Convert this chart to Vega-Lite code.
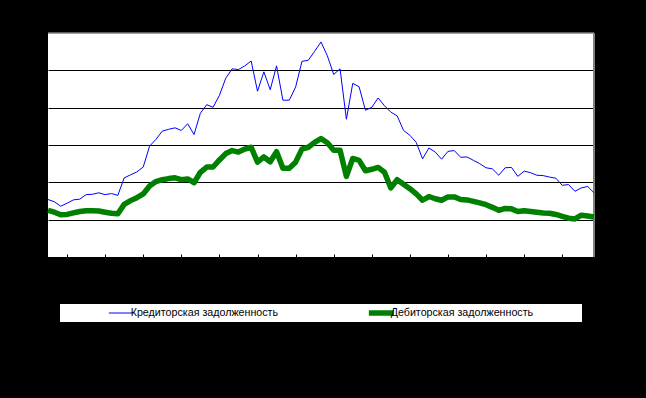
{
  "$schema": "https://vega.github.io/schema/vega-lite/v6.json",
  "width": 546,
  "height": 224,
  "autosize": {"type": "none"},
  "padding": {"left": 48, "top": 33, "right": 52, "bottom": 141},
  "background": "black",
  "config": {"view": {"fill": "white", "stroke": null}, "font": "Liberation Sans"},
  "layer": [
    {
      "data": {"values": [{}]},
      "mark": {"type": "rule", "color": "#808080", "strokeWidth": 1.5},
      "encoding": {"y": {"datum": 6, "type": "quantitative", "scale": {"domain": [0, 6], "nice": false}}}
    },
    {
      "data": {"values": [{}]},
      "mark": {"type": "rule", "color": "#808080", "strokeWidth": 2},
      "encoding": {"x": {"datum": 86, "type": "quantitative", "scale": {"domain": [0, 86], "nice": false, "zero": false}}}
    },
    {
      "data": {"values": [
        {"t":0,"K":1.54,"D":1.25},{"t":1,"K":1.48,"D":1.20},{"t":2,"K":1.36,"D":1.13},{"t":3,"K":1.44,"D":1.14},{"t":4,"K":1.53,"D":1.18},
        {"t":5,"K":1.55,"D":1.22},{"t":6,"K":1.67,"D":1.24},{"t":7,"K":1.68,"D":1.24},{"t":8,"K":1.72,"D":1.23},{"t":9,"K":1.67,"D":1.20},
        {"t":10,"K":1.70,"D":1.17},{"t":11,"K":1.65,"D":1.16},{"t":12,"K":2.12,"D":1.41},{"t":13,"K":2.20,"D":1.51},{"t":14,"K":2.28,"D":1.59},
        {"t":15,"K":2.41,"D":1.69},{"t":16,"K":2.97,"D":1.90},{"t":17,"K":3.15,"D":2.02},{"t":18,"K":3.37,"D":2.07},{"t":19,"K":3.42,"D":2.10},
        {"t":20,"K":3.46,"D":2.12},{"t":21,"K":3.39,"D":2.07},{"t":22,"K":3.57,"D":2.09},{"t":23,"K":3.28,"D":1.99},{"t":24,"K":3.85,"D":2.27},
        {"t":25,"K":4.08,"D":2.41},{"t":26,"K":4.01,"D":2.41},{"t":27,"K":4.33,"D":2.60},{"t":28,"K":4.79,"D":2.77},{"t":29,"K":5.04,"D":2.85},
        {"t":30,"K":5.02,"D":2.81},{"t":31,"K":5.12,"D":2.89},{"t":32,"K":5.25,"D":2.94},{"t":33,"K":4.44,"D":2.54},{"t":34,"K":4.96,"D":2.68},
        {"t":35,"K":4.48,"D":2.55},{"t":36,"K":5.12,"D":2.82},{"t":37,"K":4.20,"D":2.38},{"t":38,"K":4.20,"D":2.38},{"t":39,"K":4.55,"D":2.54},
        {"t":40,"K":5.24,"D":2.89},{"t":41,"K":5.27,"D":2.94},{"t":42,"K":5.51,"D":3.07},{"t":43,"K":5.76,"D":3.17},{"t":44,"K":5.39,"D":3.06},
        {"t":45,"K":4.89,"D":2.86},{"t":46,"K":5.04,"D":2.86},{"t":47,"K":3.69,"D":2.16},{"t":48,"K":4.65,"D":2.64},{"t":49,"K":4.56,"D":2.59},
        {"t":50,"K":3.93,"D":2.31},{"t":51,"K":4.01,"D":2.35},{"t":52,"K":4.26,"D":2.40},{"t":53,"K":4.05,"D":2.27},{"t":54,"K":3.88,"D":1.85},
        {"t":55,"K":3.78,"D":2.07},{"t":56,"K":3.39,"D":1.95},{"t":57,"K":3.26,"D":1.83},{"t":58,"K":3.07,"D":1.69},{"t":59,"K":2.63,"D":1.52},
        {"t":60,"K":2.92,"D":1.62},{"t":61,"K":2.81,"D":1.56},{"t":62,"K":2.62,"D":1.52},{"t":63,"K":2.83,"D":1.61},{"t":64,"K":2.85,"D":1.61},
        {"t":65,"K":2.67,"D":1.54},{"t":66,"K":2.68,"D":1.53},{"t":67,"K":2.59,"D":1.49},{"t":68,"K":2.50,"D":1.45},{"t":69,"K":2.39,"D":1.40},
        {"t":70,"K":2.36,"D":1.33},{"t":71,"K":2.19,"D":1.25},{"t":72,"K":2.39,"D":1.30},{"t":73,"K":2.40,"D":1.29},{"t":74,"K":2.16,"D":1.22},
        {"t":75,"K":2.30,"D":1.24},{"t":76,"K":2.26,"D":1.22},{"t":77,"K":2.19,"D":1.20},{"t":78,"K":2.18,"D":1.18},{"t":79,"K":2.14,"D":1.17},
        {"t":80,"K":2.11,"D":1.14},{"t":81,"K":1.92,"D":1.09},{"t":82,"K":1.94,"D":1.04},{"t":83,"K":1.76,"D":1.02},{"t":84,"K":1.85,"D":1.12},
        {"t":85,"K":1.89,"D":1.10},{"t":86,"K":1.72,"D":1.07}
      ]},
      "transform": [
        {"fold": ["K", "D"], "as": ["key", "v"]},
        {"lookup": "key", "from": {"data": {"values": [{"key": "K", "s": "Кредиторская задолженность"}, {"key": "D", "s": "Дебиторская задолженность"}]}, "key": "key", "fields": ["s"]}}
      ],
      "mark": {"type": "line", "strokeJoin": "round", "strokeCap": "butt"},
      "encoding": {
        "x": {
          "field": "t", "type": "quantitative",
          "scale": {"domain": [0, 86], "nice": false, "zero": false},
          "axis": {"values": [3,6,9,12,15,18,21,24,27,30,33,36,39,42,45,48,51,54,57,60,63,66,69,72,75,78,81,84], "labels": false, "title": null, "grid": false, "domainColor": "black", "domainWidth": 1, "tickColor": "black", "tickSize": -3, "tickWidth": 1}
        },
        "y": {
          "field": "v", "type": "quantitative",
          "scale": {"domain": [0, 6], "nice": false},
          "axis": {"values": [1,2,3,4,5], "labels": false, "ticks": false, "domain": false, "title": null, "grid": true, "gridColor": "black", "gridOpacity": 1, "gridWidth": 1}
        },
        "color": {
          "field": "s", "type": "nominal",
          "scale": {"domain": ["Кредиторская задолженность", "Дебиторская задолженность"], "range": ["#0000ff", "#008000"]},
          "legend": {
            "orient": "none", "legendX": 12, "legendY": 271, "direction": "horizontal", "columns": 2, "columnPadding": 43,
            "title": "\u2003", "titleOrient": "right", "titlePadding": 47, "titleFontSize": 10.7, "titleColor": "white",
            "fillColor": "white", "padding": 2, "clipHeight": 14,
            "symbolType": "stroke", "symbolSize": 625, "symbolStrokeWidth": 5.5, "symbolOffset": 54,
            "labelFont": "Liberation Sans", "labelFontSize": 10.7, "labelColor": "black", "labelOffset": 4, "labelLimit": 400,
            "encode": {"symbols": {"update": {"strokeWidth": {"signal": "datum.value === 'Дебиторская задолженность' ? 5.5 : 1"}}}}
          }
        },
        "strokeWidth": {"condition": {"test": "datum.s === 'Дебиторская задолженность'", "value": 5.5}, "value": 1}
      }
    }
  ]
}
